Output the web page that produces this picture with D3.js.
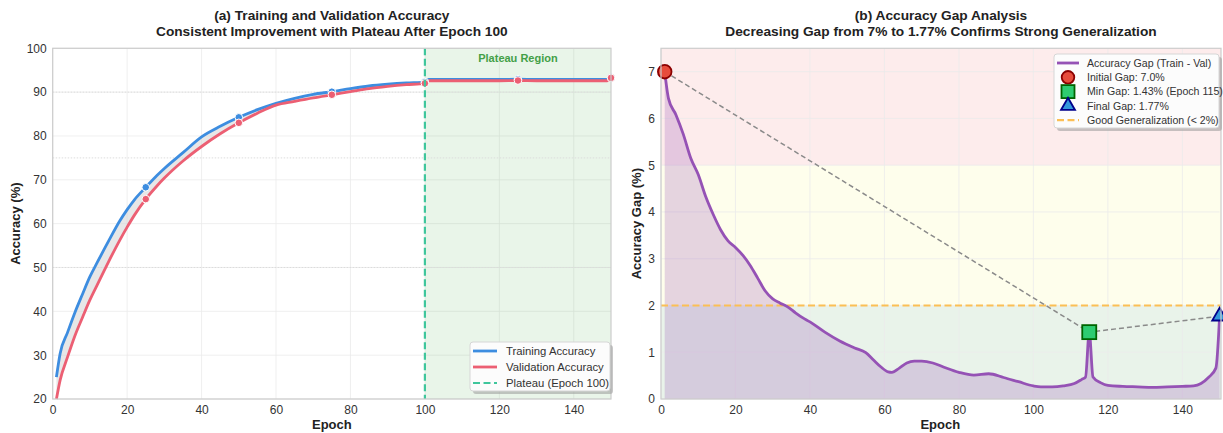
<!DOCTYPE html>
<html>
<head>
<meta charset="utf-8">
<script src="https://cdn.jsdelivr.net/npm/d3@7"></script>
<style>
  body { margin: 0; background: #fff; }
  svg text { font-family: "Liberation Sans", Arial, sans-serif; }
</style>
</head>
<body>
<svg id="chart" width="1223" height="433"></svg>
<script>
// ------------------------------
// Data
// ------------------------------
const epochs   = [1, 2, 4, 6, 8, 10, 12, 15, 18, 20, 22, 25, 28, 30, 35, 40, 45, 50, 55, 60, 65, 70, 75, 80, 85, 90, 95, 100, 101, 110, 120, 125, 130, 140, 149, 150];
const trainAcc = [25, 30.4, 35.2, 39.8, 43.9, 47.9, 51.2, 56.0, 60.6, 63.2, 65.5, 68.3, 71.0, 72.6, 76.2, 79.8, 82.2, 84.25, 86.0, 87.45, 88.6, 89.5, 90.1, 90.8, 91.4, 91.8, 92.1, 92.3, 92.9, 92.9, 92.9, 92.95, 92.9, 92.9, 92.9, 93.3];
const valAcc   = [20, 24.3, 29.6, 34.5, 38.6, 42.6, 46.1, 51.3, 56.2, 59.2, 62.0, 65.6, 68.6, 70.4, 74.3, 77.6, 80.5, 83.0, 85.2, 87.05, 87.9, 88.7, 89.4, 90.1, 90.8, 91.3, 91.7, 92.0, 92.6, 92.6, 92.6, 92.65, 92.6, 92.6, 92.6, 93.25];
const markerEpochs = [25, 50, 75, 100, 125, 150];
const refLines = [50, 75, 90];
const plateauEpoch = 100;

const gapEpochs = [1, 2, 4, 6, 8, 10, 12, 14, 16, 18, 20, 22, 24, 26, 28, 30, 32, 34, 36, 38, 40, 44, 48, 52, 55, 57, 59, 61, 62, 64, 66, 68, 70, 73, 76, 80, 84, 88, 92, 96, 100, 102, 105, 108, 111, 113, 114, 115, 116, 118, 120, 124, 128, 132, 136, 140, 143, 145, 147, 149, 150];
const gapValues = [7.0, 6.43, 6.08, 5.66, 5.15, 4.8, 4.33, 3.95, 3.62, 3.38, 3.24, 3.07, 2.85, 2.58, 2.31, 2.14, 2.05, 1.97, 1.85, 1.74, 1.65, 1.43, 1.24, 1.09, 0.99, 0.84, 0.69, 0.58, 0.57, 0.66, 0.77, 0.81, 0.81, 0.77, 0.68, 0.57, 0.51, 0.54, 0.46, 0.37, 0.28, 0.26, 0.26, 0.28, 0.33, 0.42, 0.47, 1.43, 0.47, 0.35, 0.29, 0.27, 0.26, 0.25, 0.26, 0.27, 0.28, 0.33, 0.46, 0.66, 1.77];
const keyPoints = [
  { epoch: 1, gap: 7.0 },     // initial
  { epoch: 115, gap: 1.43 },  // min
  { epoch: 150, gap: 1.77 }   // final
];
const goodThreshold = 2;
const bands = [[0, 2, "#e9f3ea"], [2, 5, "#fefeec"], [5, 7.5, "#fdecec"]];

const xTicks = [0, 20, 40, 60, 80, 100, 120, 140];
const accTicks = [20, 30, 40, 50, 60, 70, 80, 90, 100];
const gapTicks = [0, 1, 2, 3, 4, 5, 6, 7];

// ------------------------------
// Helpers
// ------------------------------
const svg = d3.select("#chart");
const plotTop = 48.3, plotBottom = 399;
const gridColor = "#ebebeb";
const frameColor = "#cccccc";
const textColor = "#333";

function drawAxes(g, x, y, yTicks, xLabel, yLabel, yLabelX) {
    g.append("g")
        .attr("transform", `translate(0,${plotBottom})`)
        .call(d3.axisBottom(x).tickValues(xTicks).tickSize(0).tickPadding(6).tickFormat(d3.format("d")))
        .call(a => a.select(".domain").remove())
        .selectAll("text").attr("font-size", 12).attr("fill", textColor)
        .style("font-family", "Liberation Sans, Arial, sans-serif");

    g.append("g")
        .attr("transform", `translate(${x.range()[0]},0)`)
        .call(d3.axisLeft(y).tickValues(yTicks).tickSize(0).tickPadding(6).tickFormat(d3.format("d")))
        .call(a => a.select(".domain").remove())
        .selectAll("text").attr("font-size", 12).attr("fill", textColor)
        .style("font-family", "Liberation Sans, Arial, sans-serif");

    g.append("text")
        .attr("x", (x.range()[0] + x.range()[1]) / 2)
        .attr("y", 429)
        .attr("text-anchor", "middle")
        .attr("font-size", 13).attr("font-weight", "bold").attr("fill", "#222")
        .text(xLabel);

    g.append("text")
        .attr("transform", `translate(${yLabelX},${(plotTop + plotBottom) / 2}) rotate(-90)`)
        .attr("text-anchor", "middle")
        .attr("font-size", 13).attr("font-weight", "bold").attr("fill", "#222")
        .text(yLabel);
}

function drawGrid(g, x, y, yTicks) {
    g.append("g").selectAll("line").data(xTicks).enter().append("line")
        .attr("x1", d => x(d)).attr("x2", d => x(d))
        .attr("y1", plotTop).attr("y2", plotBottom)
        .attr("stroke", gridColor).attr("stroke-width", 0.8);
    g.append("g").selectAll("line").data(yTicks).enter().append("line")
        .attr("x1", x.range()[0]).attr("x2", x.range()[1])
        .attr("y1", d => y(d)).attr("y2", d => y(d))
        .attr("stroke", gridColor).attr("stroke-width", 0.8);
}

function drawFrame(g, x0, x1) {
    g.append("rect")
        .attr("x", x0).attr("y", plotTop)
        .attr("width", x1 - x0).attr("height", plotBottom - plotTop)
        .attr("fill", "none").attr("stroke", frameColor).attr("stroke-width", 1.2);
}

function drawTitle(g, cx, l1, l2) {
    g.append("text").attr("x", cx).attr("y", 19.5).attr("text-anchor", "middle")
        .attr("font-size", 13.7).attr("font-weight", "bold").attr("fill", "#222").text(l1);
    g.append("text").attr("x", cx).attr("y", 35.5).attr("text-anchor", "middle")
        .attr("font-size", 13.7).attr("font-weight", "bold").attr("fill", "#222").text(l2);
}

function legendBox(g, x0, y0, w, h) {
    g.append("rect").attr("x", x0 + 3).attr("y", y0 + 3).attr("width", w).attr("height", h)
        .attr("rx", 3).attr("fill", "#999").attr("opacity", 0.55);
    g.append("rect").attr("x", x0).attr("y", y0).attr("width", w).attr("height", h)
        .attr("rx", 3).attr("fill", "#fcfcfc").attr("stroke", "#d6d6d6").attr("stroke-width", 1);
}

// ------------------------------
// (a) Training and Validation Accuracy
// ------------------------------
const xA = d3.scaleLinear().domain([0, 150]).range([52.7, 611]);
const yA = d3.scaleLinear().domain([20, 100]).range([plotBottom, plotTop]);
const gA = svg.append("g");

drawGrid(gA, xA, yA, accTicks);

// plateau span
gA.append("rect")
    .attr("x", xA(plateauEpoch)).attr("y", plotTop)
    .attr("width", xA(150) - xA(plateauEpoch)).attr("height", plotBottom - plotTop)
    .attr("fill", "#2ca02c").attr("opacity", 0.1);

// dotted reference lines
gA.append("g").selectAll("line").data(refLines).enter().append("line")
    .attr("x1", xA.range()[0]).attr("x2", xA.range()[1])
    .attr("y1", d => yA(d)).attr("y2", d => yA(d))
    .attr("stroke", "#dcdcdc").attr("stroke-width", 1).attr("stroke-dasharray", "1.5,1.5");

const accData = epochs.map((e, i) => ({ e, t: trainAcc[i], v: valAcc[i] }));

gA.append("path").datum(accData)
    .attr("d", d3.area().x(d => xA(d.e)).y0(d => yA(d.v)).y1(d => yA(d.t)).curve(d3.curveMonotoneX))
    .attr("fill", "#d4d4d4").attr("opacity", 0.55);

gA.append("path").datum(accData)
    .attr("d", d3.line().x(d => xA(d.e)).y(d => yA(d.t)).curve(d3.curveMonotoneX))
    .attr("fill", "none").attr("stroke", "#3d8de0").attr("stroke-width", 2.8);

gA.append("path").datum(accData)
    .attr("d", d3.line().x(d => xA(d.e)).y(d => yA(d.v)).curve(d3.curveMonotoneX))
    .attr("fill", "none").attr("stroke", "#ec5f73").attr("stroke-width", 2.8);

const markData = accData.filter(d => markerEpochs.includes(d.e));
gA.append("g").selectAll("circle").data(markData).enter().append("circle")
    .attr("cx", d => xA(d.e)).attr("cy", d => yA(d.t)).attr("r", 3.8)
    .attr("fill", "#3d8de0").attr("stroke", "#fff").attr("stroke-width", 1);
gA.append("g").selectAll("circle").data(markData).enter().append("circle")
    .attr("cx", d => xA(d.e)).attr("cy", d => yA(d.v)).attr("r", 3.8)
    .attr("fill", "#ec5f73").attr("stroke", "#fff").attr("stroke-width", 1);

// plateau marker line
gA.append("line")
    .attr("x1", xA(plateauEpoch)).attr("x2", xA(plateauEpoch))
    .attr("y1", plotTop).attr("y2", plotBottom)
    .attr("stroke", "#3fc69c").attr("stroke-width", 2.2).attr("stroke-dasharray", "7,3.5");

gA.append("text")
    .attr("x", xA(125)).attr("y", 61.5).attr("text-anchor", "middle")
    .attr("font-size", 11).attr("font-weight", "bold").attr("fill", "#43a047")
    .text("Plateau Region");

drawFrame(gA, 52.7, 611);
drawAxes(gA, xA, yA, accTicks, "Epoch", "Accuracy (%)", 20);
drawTitle(gA, (52.7 + 611) / 2, "(a) Training and Validation Accuracy", "Consistent Improvement with Plateau After Epoch 100");

// --- legend (a) ---
const legA = gA.append("g");
legendBox(legA, 470, 342, 140, 49);
const legAItems = [
    { label: "Training Accuracy", color: "#3d8de0", dash: null },
    { label: "Validation Accuracy", color: "#ec5f73", dash: null },
    { label: "Plateau (Epoch 100)", color: "#3fc69c", dash: "7,3.5" }
];
legAItems.forEach((d, i) => {
    const yy = 351 + i * 16;
    legA.append("line").attr("x1", 473).attr("x2", 497).attr("y1", yy).attr("y2", yy)
        .attr("stroke", d.color).attr("stroke-width", d.dash ? 2.2 : 2.8)
        .attr("stroke-dasharray", d.dash);
    legA.append("text").attr("x", 506).attr("y", yy + 4)
        .attr("font-size", 11.3).attr("fill", textColor).text(d.label);
});

// ------------------------------
// (b) Accuracy Gap Analysis
// ------------------------------
const xB = d3.scaleLinear().domain([0, 150]).range([661, 1219.6]);
const yB = d3.scaleLinear().domain([0, 7.5]).range([plotBottom, plotTop]);
const gB = svg.append("g");

gB.append("g").selectAll("rect").data(bands).enter().append("rect")
    .attr("x", xB(0)).attr("width", 1221 - xB(0))
    .attr("y", d => yB(d[1])).attr("height", d => yB(d[0]) - yB(d[1]))
    .attr("fill", d => d[2]);

drawGrid(gB, xB, yB, gapTicks);

const gapData = gapEpochs.map((e, i) => ({ e, g: gapValues[i] }));

gB.append("path").datum(gapData)
    .attr("d", d3.area().x(d => xB(d.e)).y0(yB(0)).y1(d => yB(d.g)).curve(d3.curveMonotoneX))
    .attr("fill", "#9b59b6").attr("opacity", 0.25);

// good generalization threshold
gB.append("line")
    .attr("x1", xB(0)).attr("x2", 1221)
    .attr("y1", yB(goodThreshold)).attr("y2", yB(goodThreshold))
    .attr("stroke", "#fbbf55").attr("stroke-width", 2.2).attr("stroke-dasharray", "7,3.5");

gB.append("path").datum(gapData)
    .attr("d", d3.line().x(d => xB(d.e)).y(d => yB(d.g)).curve(d3.curveMonotoneX))
    .attr("fill", "none").attr("stroke", "#9552b5").attr("stroke-width", 2.8);

// connecting trend line
gB.append("path").datum(keyPoints)
    .attr("d", d3.line().x(d => xB(d.epoch)).y(d => yB(d.gap)))
    .attr("fill", "none").attr("stroke", "#8a8a8a").attr("stroke-width", 1.5)
    .attr("stroke-dasharray", "5,3");

// key markers
const kInit = keyPoints[0], kMin = keyPoints[1], kFinal = keyPoints[2];
gB.append("circle").attr("cx", xB(kInit.epoch)).attr("cy", yB(kInit.gap)).attr("r", 6.8)
    .attr("fill", "#e74c3c").attr("stroke", "#8b0000").attr("stroke-width", 1.8);
gB.append("rect").attr("x", xB(kMin.epoch) - 7).attr("y", yB(kMin.gap) - 7)
    .attr("width", 14).attr("height", 14)
    .attr("fill", "#2ecc71").attr("stroke", "#006400").attr("stroke-width", 1.8);
gB.append("path")
    .attr("transform", `translate(${xB(kFinal.epoch)},${yB(kFinal.gap)})`)
    .attr("d", d3.symbol().type(d3.symbolTriangle).size(95)())
    .attr("fill", "#3498db").attr("stroke", "#00008b").attr("stroke-width", 1.8);

drawFrame(gB, 661, 1221);
drawAxes(gB, xB, yB, gapTicks, "Epoch", "Accuracy Gap (%)", 641);
drawTitle(gB, (661 + 1221) / 2, "(b) Accuracy Gap Analysis", "Decreasing Gap from 7% to 1.77% Confirms Strong Generalization");

// --- legend (b) ---
const legB = gB.append("g");
legendBox(legB, 1054, 54, 165, 74);
const legBRows = [
    "Accuracy Gap (Train - Val)",
    "Initial Gap: 7.0%",
    "Min Gap: 1.43% (Epoch 115)",
    "Final Gap: 1.77%",
    "Good Generalization (< 2%)"
];
legBRows.forEach((t, i) => {
    const yy = 63 + i * 14.3;
    legB.append("text").attr("x", 1087).attr("y", yy + 3.8)
        .attr("font-size", 10.6).attr("fill", textColor).text(t);
});
const hx = 1068;
legB.append("line").attr("x1", 1057).attr("x2", 1079).attr("y1", 63).attr("y2", 63)
    .attr("stroke", "#9552b5").attr("stroke-width", 2.8);
legB.append("circle").attr("cx", hx).attr("cy", 77.3).attr("r", 6.3)
    .attr("fill", "#e74c3c").attr("stroke", "#8b0000").attr("stroke-width", 1.8);
legB.append("rect").attr("x", hx - 6.5).attr("y", 91.6 - 6.5).attr("width", 13).attr("height", 13)
    .attr("fill", "#2ecc71").attr("stroke", "#006400").attr("stroke-width", 1.8);
legB.append("path").attr("transform", `translate(${hx},${105.9})`)
    .attr("d", d3.symbol().type(d3.symbolTriangle).size(85)())
    .attr("fill", "#3498db").attr("stroke", "#00008b").attr("stroke-width", 1.8);
legB.append("line").attr("x1", 1057).attr("x2", 1079).attr("y1", 120.2).attr("y2", 120.2)
    .attr("stroke", "#fbbf55").attr("stroke-width", 2.2).attr("stroke-dasharray", "7,3.5");
</script>
</body>
</html>
